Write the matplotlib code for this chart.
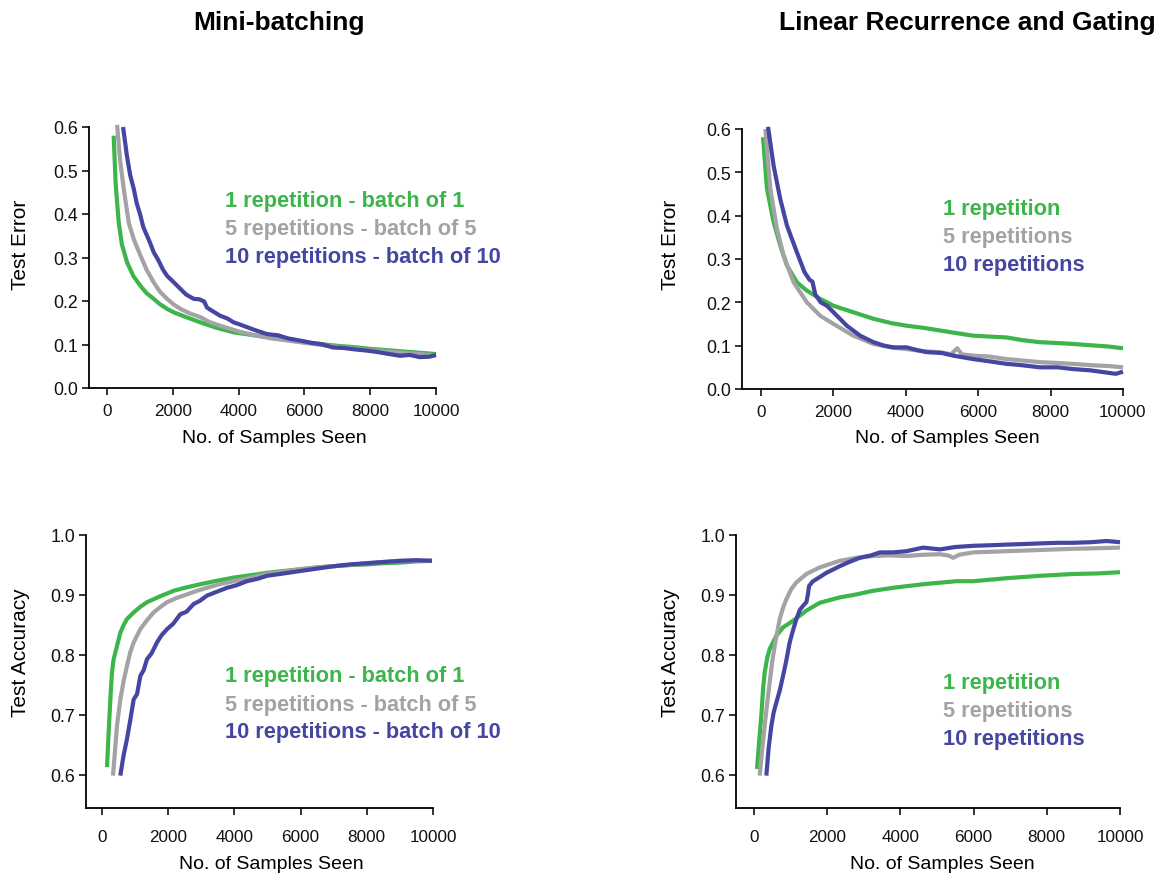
import matplotlib
matplotlib.use("Agg")
import matplotlib.pyplot as plt

plt.rcParams['font.family'] = ['Liberation Sans', 'DejaVu Sans']

W, H = 1167, 878
GREEN = '#3cb54a'
GRAY = '#a3a3a5'
BLUE = '#4545a2'

# ---------------- Data: Mini-batching, test error ----------------
mb_err_g_x = [200, 260, 354, 450, 607, 800, 1012, 1200, 1417, 1600, 1822, 2024, 2400, 2834, 3300, 3846, 4400, 5000, 5500, 6000, 6500, 7000, 7500, 8000, 8500, 9000, 9500, 10000]
mb_err_g_y = [0.58, 0.47, 0.38, 0.33, 0.289, 0.257, 0.235, 0.218, 0.205, 0.193, 0.182, 0.174, 0.163, 0.151, 0.139, 0.128, 0.122, 0.116, 0.110, 0.105, 0.101, 0.097, 0.094, 0.090, 0.087, 0.084, 0.081, 0.078]
mb_err_s_x = [304, 400, 506, 658, 820, 1012, 1200, 1417, 1600, 1822, 2024, 2227, 2500, 2834, 3100, 3441, 4000, 4500, 5000, 5500, 6000, 6500, 7000, 7500, 8000, 8500, 9000, 9500, 10000]
mb_err_s_y = [0.605, 0.52, 0.458, 0.38, 0.34, 0.305, 0.272, 0.243, 0.222, 0.205, 0.192, 0.182, 0.172, 0.163, 0.152, 0.143, 0.130, 0.121, 0.114, 0.109, 0.104, 0.099, 0.095, 0.091, 0.087, 0.084, 0.081, 0.078, 0.075]
mb_err_b_x = [486, 600, 700, 810, 900, 1012, 1100, 1215, 1300, 1417, 1550, 1700, 1822, 2000, 2227, 2400, 2632, 2800, 2950, 3036, 3200, 3441, 3650, 3846, 4000, 4251, 4500, 4858, 5200, 5500, 5870, 6200, 6500, 6883, 7200, 7500, 7895, 8200, 8500, 8907, 9200, 9500, 9800, 10000]
mb_err_b_y = [0.600, 0.535, 0.490, 0.458, 0.425, 0.397, 0.370, 0.350, 0.335, 0.312, 0.295, 0.272, 0.258, 0.245, 0.228, 0.215, 0.205, 0.204, 0.199, 0.185, 0.177, 0.166, 0.160, 0.151, 0.147, 0.140, 0.133, 0.124, 0.121, 0.114, 0.109, 0.104, 0.101, 0.093, 0.092, 0.089, 0.086, 0.083, 0.079, 0.074, 0.076, 0.071, 0.072, 0.076]

# ---------------- Data: Linear recurrence, test error ----------------
lr_err_g_x = [55, 165, 349, 533, 717, 993, 1268, 1636, 2004, 2555, 3107, 3600, 4026, 4500, 4945, 5400, 5864, 6300, 6783, 7200, 7702, 8200, 8621, 9100, 9600, 10000]
lr_err_g_y = [0.581, 0.462, 0.385, 0.331, 0.285, 0.246, 0.227, 0.208, 0.192, 0.177, 0.162, 0.152, 0.146, 0.141, 0.135, 0.129, 0.123, 0.121, 0.119, 0.113, 0.108, 0.106, 0.104, 0.101, 0.098, 0.094]
lr_err_s_x = [120, 257, 441, 625, 901, 1268, 1636, 2004, 2555, 3107, 3600, 4026, 4500, 4945, 5250, 5420, 5550, 5864, 6300, 6783, 7200, 7702, 8200, 8621, 9100, 9600, 10000]
lr_err_s_y = [0.600, 0.462, 0.369, 0.308, 0.246, 0.200, 0.169, 0.150, 0.123, 0.104, 0.096, 0.092, 0.087, 0.085, 0.080, 0.094, 0.080, 0.077, 0.075, 0.069, 0.066, 0.062, 0.060, 0.058, 0.055, 0.053, 0.050]
lr_err_b_x = [193, 349, 533, 717, 993, 1200, 1340, 1420, 1500, 1650, 1820, 2004, 2371, 2739, 3107, 3400, 3658, 4026, 4300, 4577, 5000, 5312, 5864, 6300, 6783, 7200, 7702, 8200, 8621, 9100, 9540, 9800, 10000]
lr_err_b_y = [0.605, 0.515, 0.438, 0.377, 0.315, 0.270, 0.252, 0.248, 0.218, 0.200, 0.192, 0.177, 0.146, 0.123, 0.108, 0.100, 0.096, 0.096, 0.090, 0.085, 0.083, 0.077, 0.069, 0.064, 0.058, 0.055, 0.050, 0.050, 0.046, 0.043, 0.038, 0.035, 0.040]

# ---------------- Data: Mini-batching, test accuracy ----------------
mb_acc_g_x = [151, 200, 252, 300, 352, 453, 554, 655, 755, 957, 1150, 1360, 1560, 1762, 2165, 2500, 2971, 3500, 3978, 4500, 4985, 5500, 5992, 6500, 6999, 7500, 8006, 8500, 9013, 9500, 9970]
mb_acc_g_y = [0.613, 0.670, 0.726, 0.770, 0.793, 0.815, 0.837, 0.850, 0.860, 0.871, 0.880, 0.888, 0.893, 0.898, 0.907, 0.912, 0.918, 0.924, 0.929, 0.933, 0.937, 0.940, 0.943, 0.946, 0.948, 0.950, 0.951, 0.953, 0.954, 0.956, 0.957]
mb_acc_s_x = [332, 400, 453, 554, 655, 755, 857, 957, 1158, 1360, 1561, 1764, 1964, 2250, 2568, 2870, 3172, 3550, 3978, 4500, 4985, 5500, 5992, 6500, 6999, 7500, 8006, 8500, 9013, 9500, 9970]
mb_acc_s_y = [0.599, 0.645, 0.682, 0.726, 0.757, 0.782, 0.805, 0.821, 0.843, 0.858, 0.871, 0.880, 0.888, 0.895, 0.901, 0.907, 0.912, 0.918, 0.923, 0.929, 0.935, 0.939, 0.943, 0.946, 0.948, 0.950, 0.953, 0.955, 0.957, 0.957, 0.957]
mb_acc_b_x = [554, 650, 755, 850, 957, 1060, 1158, 1260, 1360, 1500, 1662, 1800, 1964, 2150, 2367, 2550, 2769, 2950, 3172, 3450, 3776, 4050, 4381, 4700, 4985, 5500, 5992, 6500, 6999, 7500, 8006, 8500, 9013, 9500, 9970]
mb_acc_b_y = [0.599, 0.632, 0.660, 0.690, 0.726, 0.735, 0.765, 0.775, 0.793, 0.803, 0.821, 0.833, 0.843, 0.852, 0.868, 0.872, 0.885, 0.890, 0.899, 0.905, 0.912, 0.916, 0.923, 0.927, 0.932, 0.936, 0.940, 0.944, 0.948, 0.951, 0.953, 0.955, 0.957, 0.958, 0.957]

# ---------------- Data: Linear recurrence, test accuracy ----------------
lr_acc_g_x = [82, 140, 200, 250, 292, 360, 428, 611, 793, 1067, 1431, 1796, 2343, 2799, 3254, 3801, 4622, 5533, 5989, 6901, 7812, 8724, 9400, 10000]
lr_acc_g_y = [0.610, 0.655, 0.699, 0.745, 0.771, 0.795, 0.810, 0.832, 0.846, 0.857, 0.874, 0.887, 0.896, 0.901, 0.907, 0.912, 0.918, 0.923, 0.923, 0.928, 0.932, 0.935, 0.936, 0.938]
lr_acc_s_x = [155, 220, 292, 360, 428, 500, 565, 640, 702, 790, 884, 1020, 1158, 1431, 1796, 2343, 2800, 3254, 3700, 4166, 4600, 5077, 5300, 5442, 5600, 5989, 6901, 7812, 8724, 9400, 10000]
lr_acc_s_y = [0.599, 0.640, 0.682, 0.720, 0.754, 0.790, 0.815, 0.840, 0.860, 0.878, 0.893, 0.910, 0.921, 0.935, 0.946, 0.957, 0.962, 0.965, 0.966, 0.965, 0.967, 0.968, 0.966, 0.962, 0.967, 0.971, 0.973, 0.975, 0.977, 0.978, 0.979]
lr_acc_b_x = [337, 400, 474, 540, 611, 700, 793, 880, 975, 1060, 1158, 1250, 1340, 1431, 1470, 1504, 1613, 1800, 1978, 2343, 2600, 2890, 3200, 3437, 3800, 4166, 4622, 5077, 5500, 5989, 6500, 6901, 7400, 7812, 8300, 8724, 9200, 9635, 10000]
lr_acc_b_y = [0.599, 0.645, 0.682, 0.705, 0.721, 0.740, 0.765, 0.790, 0.821, 0.840, 0.860, 0.875, 0.882, 0.888, 0.900, 0.915, 0.923, 0.930, 0.937, 0.948, 0.955, 0.962, 0.966, 0.971, 0.971, 0.973, 0.979, 0.976, 0.980, 0.982, 0.983, 0.984, 0.985, 0.986, 0.987, 0.987, 0.988, 0.990, 0.988]

mb_labels = ['1 repetition - batch of 1', '5 repetitions - batch of 5', '10 repetitions - batch of 10']
lr_labels = ['1 repetition', '5 repetitions', '10 repetitions']
x_ticks = [0, 2000, 4000, 6000, 8000, 10000]
err_ticks = [0.0, 0.1, 0.2, 0.3, 0.4, 0.5, 0.6]
acc_ticks = [0.6, 0.7, 0.8, 0.9, 1.0]

fig = plt.figure(figsize=(W / 100, H / 100), dpi=100)


def px_axes(left, right, top, bottom):
    ax = fig.add_axes([left / W, 1 - bottom / H, (right - left) / W, (bottom - top) / H])
    ax._px = (left, right, top, bottom)
    return ax


def style(ax, xlim, ylim, yticks, ylabel, ylab_px, xlab_px, xpad):
    left, right, top, bottom = ax._px
    ax.set_xlim(*xlim)
    ax.set_ylim(*ylim)
    for s in ['top', 'right']:
        ax.spines[s].set_visible(False)
    for s in ['left', 'bottom']:
        ax.spines[s].set_linewidth(1.3)
    ax.spines['bottom'].set_bounds(xlim[0], 10000)
    ax.set_xticks(x_ticks)
    ax.set_xticklabels([str(t) for t in x_ticks])
    ax.set_yticks(yticks)
    ax.set_yticklabels([f'{t:.1f}' for t in yticks])
    ax.tick_params(axis='both', labelsize=12.3, length=5, width=1.2, pad=3, colors='#111111')
    ax.tick_params(axis='y', labelsize=12.8)
    ax.tick_params(axis='x', pad=xpad)
    ax.set_xlabel('No. of Samples Seen', fontsize=14)
    ax.set_ylabel(ylabel, fontsize=15)
    # explicit label placement (pixel positions of the label centres)
    yx, yy = ylab_px
    ax.yaxis.set_label_coords((yx - left) / (right - left), (bottom - yy) / (bottom - top))
    ax.yaxis.label.set_verticalalignment('center')
    xx, xy = xlab_px
    ax.xaxis.set_label_coords((xx - left) / (right - left), (bottom - xy) / (bottom - top))
    ax.xaxis.label.set_verticalalignment('center')
    ax.patch.set_visible(False)


def curves(ax, data):
    for (x, y), c in zip(data, [GREEN, GRAY, BLUE]):
        ax.plot(x, y, color=c, lw=3.0, clip_on=False, solid_joinstyle='round', solid_capstyle='butt')


def labels(texts, left, ys):
    for t, y, c in zip(texts, ys, [GREEN, GRAY, BLUE]):
        fig.text(left / W, 1 - y / H, t, color=c, fontsize=15.7, fontweight='bold', va='center', ha='left')


# Top-left
ax1 = px_axes(89, 436, 128, 389)
curves(ax1, [(mb_err_g_x, mb_err_g_y), (mb_err_s_x, mb_err_s_y), (mb_err_b_x, mb_err_b_y)])
style(ax1, (-550, 10000), (0, 0.6), err_ticks, 'Test Error', (21, 245), (274, 439), 6)
labels(mb_labels, 225, [202, 230, 258])

# Top-right
ax2 = px_axes(742, 1123, 130, 390)
curves(ax2, [(lr_err_g_x, lr_err_g_y), (lr_err_s_x, lr_err_s_y), (lr_err_b_x, lr_err_b_y)])
style(ax2, (-525, 10000), (0, 0.6), err_ticks, 'Test Error', (670, 245), (947, 439), 6)
labels(lr_labels, 943, [210, 238, 266])

# Bottom-left
ax3 = px_axes(86, 433, 536, 809)
curves(ax3, [(mb_acc_g_x, mb_acc_g_y), (mb_acc_s_x, mb_acc_s_y), (mb_acc_b_x, mb_acc_b_y)])
style(ax3, (-483, 10000), (0.545, 1.0), acc_ticks, 'Test Accuracy', (21, 653), (271, 865), 10)
labels(mb_labels, 225, [677, 705, 733])

# Bottom-right
ax4 = px_axes(736, 1120, 536, 809)
curves(ax4, [(lr_acc_g_x, lr_acc_g_y), (lr_acc_s_x, lr_acc_s_y), (lr_acc_b_x, lr_acc_b_y)])
style(ax4, (-492, 10000), (0.545, 1.0), acc_ticks, 'Test Accuracy', (670, 653), (942, 865), 10)
labels(lr_labels, 943, [684, 712, 740])

# Column titles
fig.text(279 / W, 1 - 30 / H, 'Mini-batching', fontsize=19, fontweight='bold', ha='center', va='baseline')
fig.text(967 / W, 1 - 30 / H, 'Linear Recurrence and Gating', fontsize=19, fontweight='bold', ha='center', va='baseline')

fig.savefig('out.png', dpi=100)
